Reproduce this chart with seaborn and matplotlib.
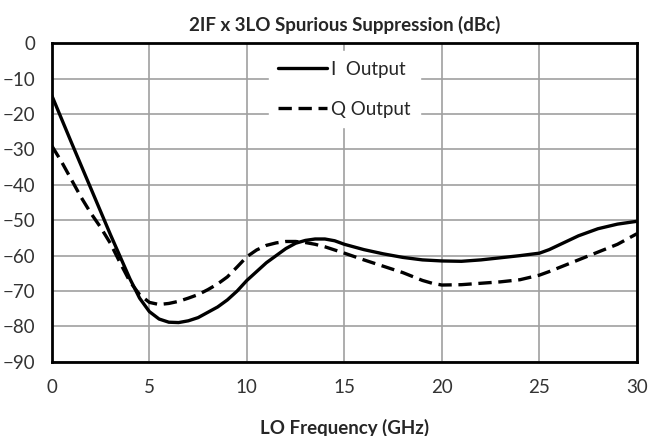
import matplotlib
matplotlib.use('Agg')
import matplotlib.pyplot as plt
import seaborn as sns
import pandas as pd

# LO frequency (GHz) and suppression (dBc)
freq_i = [0, 1, 2, 3, 4, 4.5, 5, 5.5, 6, 6.5, 7, 7.5, 8, 8.5, 9, 9.5, 10, 10.5, 11,
          11.5, 12, 12.5, 13, 13.5, 14, 14.5, 15, 16, 17, 18, 19, 20, 21, 22, 23,
          24, 25, 25.5, 26, 27, 28, 29, 30]
i_output = [-14.8, -28, -41, -54, -66.5, -72, -75.8, -77.9, -78.8, -78.9, -78.4, -77.5,
            -76, -74.5, -72.5, -70, -67, -64.5, -62, -60, -58, -56.5, -55.7, -55.3,
            -55.3, -55.8, -56.8, -58.3, -59.5, -60.5, -61.2, -61.5, -61.6, -61.2,
            -60.6, -60, -59.3, -58.3, -57, -54.4, -52.4, -51.1, -50.3]

freq_q = [0, 0.5, 1, 1.5, 2, 2.5, 3, 3.5, 4, 4.5, 5, 5.5, 6, 6.5, 7, 7.5, 8, 8.5, 9,
          9.5, 10, 10.5, 11, 11.5, 12, 12.5, 13, 13.5, 14, 15, 16, 17, 18, 19, 19.5,
          20, 21, 22, 23, 24, 25, 25.5, 26, 27, 28, 29, 30]
q_output = [-29, -33.5, -38.5, -43.5, -48, -52, -56.5, -62, -67.3, -71, -73.2,
            -73.8, -73.5, -72.9, -72, -71, -69.6, -68, -66, -63.2, -60.3, -58.4, -57.1,
            -56.4, -56, -56, -56.3, -56.8, -57.5, -59.3, -61.2, -63, -64.8, -67,
            -67.8, -68.3, -68.2, -67.8, -67.4, -66.8, -65.5, -64.5, -63.4, -61.2,
            -59, -56.8, -53.8]

x_ticks = [0, 5, 10, 15, 20, 25, 30]
y_ticks = [0, -10, -20, -30, -40, -50, -60, -70, -80, -90]

df_i = pd.DataFrame({'freq': freq_i, 'dbc': i_output})
df_q = pd.DataFrame({'freq': freq_q, 'dbc': q_output})

sns.set_style('white')
plt.rcParams['font.family'] = ['Lato', 'DejaVu Sans']

fig = plt.figure(figsize=(6.56, 4.36), dpi=100)
ax = fig.add_axes([0.079, 0.170, 0.892, 0.731])

sns.lineplot(data=df_i, x='freq', y='dbc', ax=ax, color='black', linewidth=2.4,
             label='I  Output')
sns.lineplot(data=df_q, x='freq', y='dbc', ax=ax, color='black', linewidth=2.4,
             linestyle=(0, (4, 2)), label='Q Output')

ax.set_xlim(0, 30)
ax.set_ylim(-90, 0)
ax.set_xticks(x_ticks)
ax.set_yticks(y_ticks)
ax.grid(True, color='#a0a0a0', linewidth=1.2)
ax.set_axisbelow(True)
for s in ax.spines.values():
    s.set_color('black')
    s.set_linewidth(2)
ax.tick_params(length=0, labelsize=13.5, pad=12, colors='#333333')

ax.set_xlabel('LO Frequency (GHz)', fontsize=13.5, fontweight='bold', labelpad=17)
ax.set_ylabel('')
ax.set_title('2IF x 3LO Spurious Suppression (dBc)', fontsize=13.5, fontweight='bold', pad=9)

leg = ax.legend(loc='upper center', bbox_to_anchor=(0.50, 0.975), frameon=True,
                fontsize=13.5, handlelength=2.6, handletextpad=0.2,
                labelspacing=1.25, borderpad=0.5, borderaxespad=0)
leg.get_frame().set_facecolor('white')
leg.get_frame().set_edgecolor('white')
leg.get_frame().set_alpha(1)
leg.get_frame().set_boxstyle('square', pad=0.0)

fig.savefig('out.png', dpi=100)
